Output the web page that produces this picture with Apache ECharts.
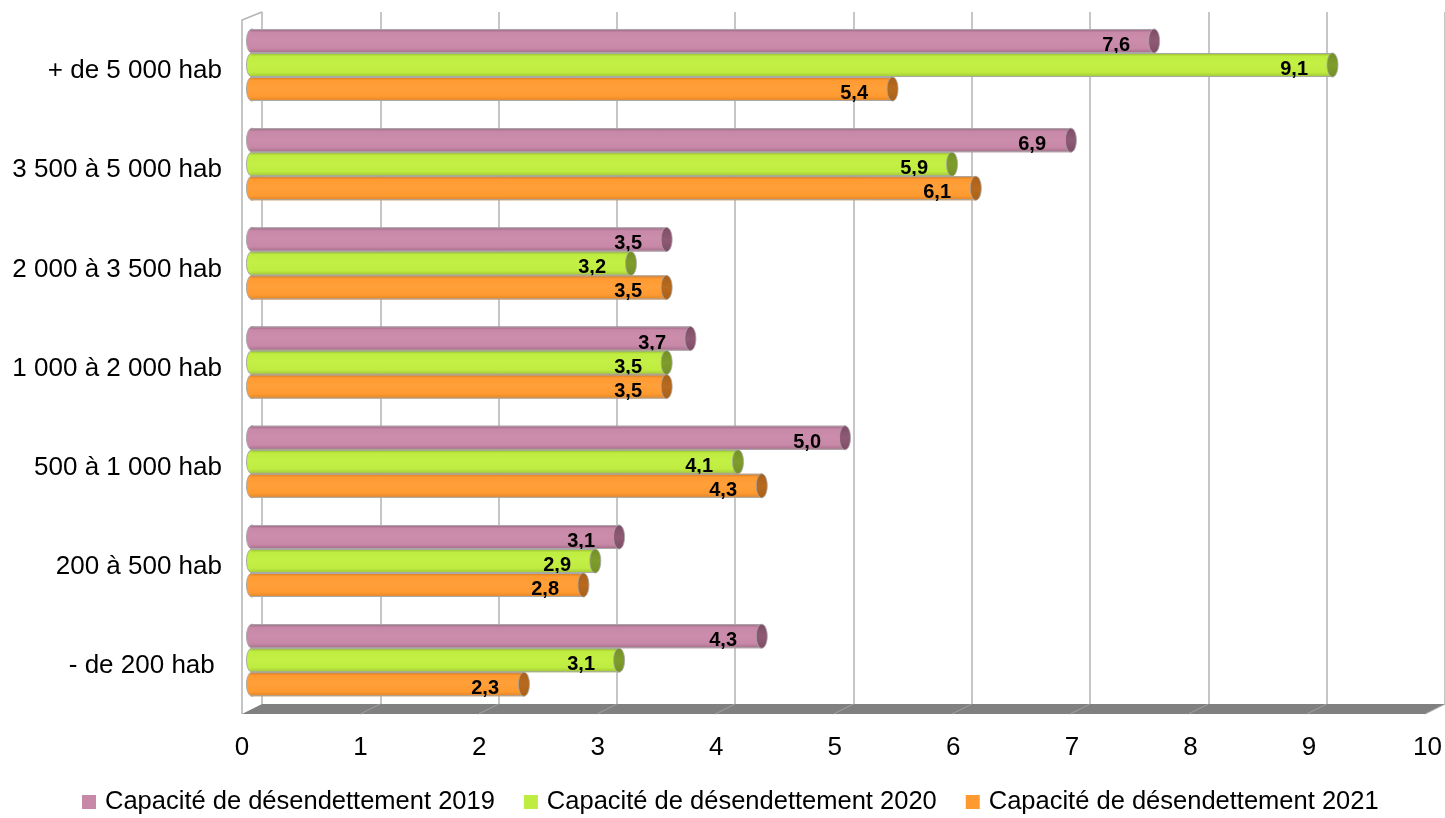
<!DOCTYPE html>
<html>
<head>
<meta charset="utf-8">
<script src="https://cdn.jsdelivr.net/npm/echarts@6/dist/echarts.min.js"></script>
<style>
html,body{margin:0;padding:0;background:#fff;}
#chart{width:1445px;height:818px;}
</style>
</head>
<body>
<div id="chart"></div>
<script>
const categories = ['+ de 5 000 hab', '3 500 à 5 000 hab', '2 000 à 3 500 hab', '1 000 à 2 000 hab', '500 à 1 000 hab', '200 à 500 hab', '- de 200 hab '];
const seriesNames = ['Capacité de désendettement 2019', 'Capacité de désendettement 2020', 'Capacité de désendettement 2021'];
const values2019 = [7.6, 6.9, 3.5, 3.7, 5.0, 3.1, 4.3];
const values2020 = [9.1, 5.9, 3.2, 3.5, 4.1, 2.9, 3.1];
const values2021 = [5.4, 6.1, 3.5, 3.5, 4.3, 2.8, 2.3];
const xTicks = [0, 1, 2, 3, 4, 5, 6, 7, 8, 9, 10];

const FONT = '"Liberation Sans", Arial, sans-serif';
const palettes = [
  {base: '#c888a8', top: '#9a6080', light: '#cc8cab', bottom: '#a56d89', cap: '#7f4c66', cap2: '#8e5a75'},
  {base: '#bfec40', top: '#93b92e', light: '#c4f046', bottom: '#9fc637', cap: '#738f27', cap2: '#7f9d2c'},
  {base: '#ff9a30', top: '#d07722', light: '#ffa03a', bottom: '#df8628', cap: '#a9601a', cap2: '#b86a1e'}
];

function fmt(v) {
  return v.toFixed(1).split('.').join(',');
}

function grad(p) {
  return new echarts.graphic.LinearGradient(0, 0, 0, 1, [
    {offset: 0, color: p.top},
    {offset: 0.14, color: p.base},
    {offset: 0.45, color: p.light},
    {offset: 0.8, color: p.base},
    {offset: 1, color: p.bottom}
  ]);
}
function capGrad(p) {
  return new echarts.graphic.LinearGradient(0, 0, 0, 1, [
    {offset: 0, color: p.cap},
    {offset: 0.5, color: p.cap2},
    {offset: 1, color: p.cap}
  ]);
}

function makeRender(sIdx) {
  const p = palettes[sIdx];
  return function (params, api) {
    const cat = api.value(0);
    const val = api.value(1);
    const p0 = api.coord([0, cat]);
    const p1 = api.coord([val, cat]);
    const band = api.size([0, 1])[1];
    const h = band * 0.242;
    const cy = p0[1] + (sIdx - 1) * h;
    const rx = 5.5;
    const xl = p0[0] - 4;
    const xr = p1[0] - rx;
    const ry = h / 2;
    return {
      type: 'group',
      children: [
        {type: 'ellipse', shape: {cx: xl, cy: cy, rx: rx, ry: ry},
          style: {fill: grad(p), stroke: '#a8a8a8', lineWidth: 1}},
        {type: 'rect', shape: {x: xl, y: cy - ry, width: xr - xl, height: h},
          style: {fill: grad(p)}},
        {type: 'line', shape: {x1: xl, y1: cy - ry + 0.5, x2: xr, y2: cy - ry + 0.5},
          style: {stroke: '#a8a8a8', lineWidth: 1}},
        {type: 'line', shape: {x1: xl, y1: cy + ry - 0.5, x2: xr, y2: cy + ry - 0.5},
          style: {stroke: '#a8a8a8', lineWidth: 1}},
        {type: 'ellipse', shape: {cx: xr, cy: cy, rx: rx, ry: ry},
          style: {fill: capGrad(p), stroke: '#a8a8a8', lineWidth: 0.8}},
        {type: 'text', style: {
          text: fmt(val),
          x: Math.round(p1[0] - 30), y: Math.round(cy + 4),
          align: 'right', verticalAlign: 'middle',
          font: 'bold 20px ' + FONT, fill: '#000'}}
      ]
    };
  };
}

function renderFrame(params, api) {
  const children = [];
  const bl = api.coord([xTicks[0], 0]);
  const br = api.coord([xTicks[xTicks.length - 1], 0]);
  const tl = api.coord([xTicks[0], 1]);
  const dx = -20, dy = 10;
  children.push({type: 'polygon', shape: {points: [
    [bl[0], bl[1]], [br[0], br[1]], [br[0] + dx, br[1] + dy], [bl[0] + dx, bl[1] + dy]
  ]}, style: {fill: '#808080'}});
  for (let i = 1; i < xTicks.length; i++) {
    const b = api.coord([xTicks[i], 0]);
    children.push({type: 'line', shape: {x1: b[0], y1: b[1], x2: b[0] + dx, y2: b[1] + dy},
      style: {stroke: '#a0a0a0', lineWidth: 1}});
  }
  children.push({type: 'polyline', shape: {points: [
    [tl[0], tl[1]], [tl[0] + dx, tl[1] + 8], [bl[0] + dx, bl[1] + dy]
  ]}, style: {stroke: '#b3b3b3', lineWidth: 1.5, fill: 'none'}});
  return {type: 'group', children: children};
}

const chart = echarts.init(document.getElementById('chart'), null, {renderer: 'canvas'});
const allValues = [values2019, values2020, values2021];

const option = {
  backgroundColor: '#fff',
  animation: false,
  textStyle: {fontFamily: FONT},
  grid: [
    {left: 262, right: -3.6, top: 12, bottom: 114},
    {left: 256, right: -3, top: 15.4, bottom: 108.2},
    {left: 242, right: 16, top: 12, bottom: 104}
  ],
  xAxis: [
    {gridIndex: 0, type: 'value', min: 0, max: 10, interval: 1,
      axisLine: {show: false}, axisTick: {show: false}, axisLabel: {show: false},
      splitLine: {show: true, lineStyle: {color: '#b3b3b3', width: 1.5}}},
    {gridIndex: 1, type: 'value', min: 0, max: 10, interval: 1, show: false},
    {gridIndex: 2, type: 'value', min: 0, max: 10, interval: 1,
      axisLine: {show: false}, axisTick: {show: false}, splitLine: {show: false},
      axisLabel: {fontSize: 26, color: '#000', margin: 21, fontFamily: FONT}}
  ],
  yAxis: [
    {gridIndex: 0, type: 'value', min: 0, max: 1, show: false},
    {gridIndex: 1, type: 'category', data: categories, inverse: true,
      axisLine: {show: false}, axisTick: {show: false}, splitLine: {show: false},
      axisLabel: {fontSize: 26, color: '#000', margin: 34, fontFamily: FONT,
        verticalAlign: 'top', lineHeight: 12}},
    {gridIndex: 2, type: 'value', min: 0, max: 1, show: false}
  ],
  legend: {
    data: seriesNames,
    left: 82, top: 789, padding: 0,
    icon: 'rect', itemWidth: 14, itemHeight: 14, itemGap: 29,
    textStyle: {fontSize: 25.5, lineHeight: 26, color: '#000', fontFamily: FONT, padding: [0, 0, 0, 4]}
  },
  series: [
    {type: 'custom', name: 'frame', xAxisIndex: 0, yAxisIndex: 0, silent: true, z: 1,
      data: [[xTicks[0], 0]], renderItem: renderFrame}
  ].concat(seriesNames.map(function (name, i) {
    return {
      type: 'custom', name: name, xAxisIndex: 1, yAxisIndex: 1, z: 3,
      itemStyle: {color: palettes[i].base},
      encode: {x: 1, y: 0},
      data: allValues[i].map(function (v, k) { return [k, v]; }),
      renderItem: makeRender(i)
    };
  }))
};
chart.setOption(option);
</script>
</body>
</html>
